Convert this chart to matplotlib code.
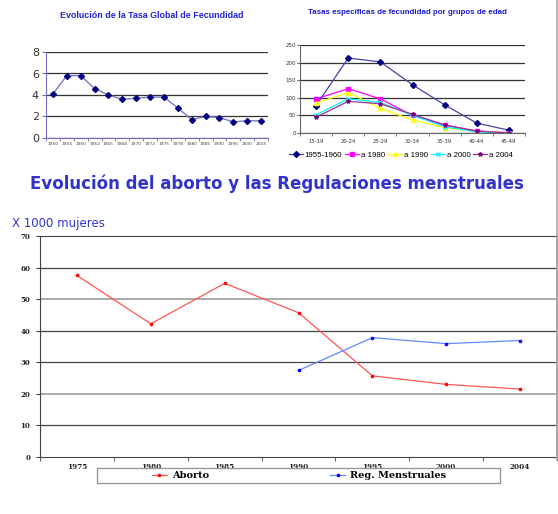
import matplotlib
matplotlib.use("Agg")
import matplotlib.pyplot as plt
from matplotlib import font_manager
from matplotlib.patches import Rectangle
from matplotlib.lines import Line2D
import numpy as np

# ---------- data ----------
tgf_years = ["1950", "1955", "1960", "1962", "1965", "1968", "1970", "1972",
             "1975", "1978", "1980", "1985", "1990", "1995", "2000", "2004"]
tgf_values = [4.1, 5.8, 5.8, 4.6, 4.0, 3.6, 3.7, 3.8, 3.8, 2.8, 1.7, 2.0, 1.9, 1.5, 1.6, 1.6]

age_groups = ["15-19", "20-24", "25-29", "30-34", "35-39", "40-44", "45-49"]
s_1955 = [78, 213, 202, 137, 80, 28, 8]
s_1980 = [97, 126, 97, 50, 22, 6, 1]
s_1990 = [85, 115, 70, 37, 15, 4, 1]
s_2000 = [52, 97, 87, 50, 18, 3, 0]
s_2004 = [45, 90, 83, 53, 23, 5, 0]
age_series_labels = ["1955-1960", "a 1980", "a 1990", "a 2000", "a 2004"]

ab_years = ["1975", "1980", "1985", "1990", "1995", "2000", "2004"]
aborto = [57.5, 42.2, 55.0, 45.7, 25.7, 23.0, 21.5]
reg_years_idx = [3, 4, 5, 6]
reg_menstruales = [27.4, 37.8, 35.9, 36.9]

W, H = 558, 514
fig = plt.figure(figsize=(W / 100, H / 100), dpi=100, facecolor="white")

try:
    font_manager.findfont(font_manager.FontProperties(family="Liberation Sans Narrow"),
                          fallback_to_default=False)
    narrow_name = "Liberation Sans Narrow"
except Exception:
    narrow_name = "Liberation Sans"
narrow = [narrow_name, "DejaVu Sans"]


def ax_px(left, top, right, bottom):
    return fig.add_axes([left / W, 1 - bottom / H, (right - left) / W, (bottom - top) / H])


def fit_width(t, target):
    r = fig.canvas.get_renderer()
    for _ in range(3):
        w = t.get_window_extent(r).width
        t.set_fontsize(t.get_fontsize() * target / w)


# ---------- chart 1 ----------
ax1 = ax_px(46, 52, 268, 138)
x1 = np.arange(len(tgf_values))
ax1.plot(x1, tgf_values, color="#7a7ac8", lw=1.0, marker="D", ms=3.0,
         mfc="#000080", mec="#000080", zorder=3)
ax1.set_xlim(-0.5, len(tgf_values) - 0.5)
ax1.set_ylim(0, 8)
ax1.set_yticks([0, 2, 4, 6, 8])
ax1.set_yticklabels(["0", "2", "4", "6", "8"], fontsize=8, color="#333333")
ax1.set_xticks(x1)
ax1.set_xticklabels(tgf_years, fontsize=3.2, color="#444444")
ax1.set_xticks(np.arange(-0.5, len(tgf_values)), minor=True)
ax1.tick_params(axis="x", which="major", length=0, pad=3)
ax1.tick_params(axis="x", which="minor", length=2, color="#7070c0")
ax1.tick_params(axis="y", length=3, color="#7070c0", pad=2)
ax1.yaxis.grid(True, color="#333333", lw=0.9)
ax1.set_axisbelow(True)
for s in ["top", "right"]:
    ax1.spines[s].set_visible(False)
ax1.spines["left"].set_color("#7070c0")
ax1.spines["bottom"].set_color("#7070c0")
t1 = fig.text(152 / W, 1 - 16 / H, "Evolución de la Tasa Global de Fecundidad",
              ha="center", va="center", fontsize=7, fontweight="bold",
              color="#2222dd", family=narrow)
fit_width(t1, 182)

# ---------- chart 2 ----------
ax2 = ax_px(300, 45, 525, 133)
x2 = np.arange(len(age_groups))
series = [s_1955, s_1980, s_1990, s_2000, s_2004]
colors = ["#000080", "#ff00ff", "#ffff00", "#00ffff", "#800080"]
lcolors = ["#4444aa", "#ff00ff", "#ffff00", "#00ffff", "#993399"]
markers = ["D", "s", "^", "x", "*"]
for vals, c, lc, m, lab in zip(series, colors, lcolors, markers, age_series_labels):
    ax2.plot(x2, vals, color=lc, lw=0.9, marker=m, ms=3.0, mfc=c, mec=c, label=lab)
ax2.set_xlim(-0.5, len(age_groups) - 0.5)
ax2.set_ylim(0, 250)
ax2.set_yticks([0, 50, 100, 150, 200, 250])
ax2.set_yticklabels(["0", "50", "100", "150", "200", "250"], fontsize=4, color="#333333")
ax2.set_xticks(x2)
ax2.set_xticklabels(age_groups, fontsize=3.8, color="#333333")
ax2.set_xticks(np.arange(-0.5, len(age_groups)), minor=True)
ax2.tick_params(axis="x", which="major", length=0, pad=4)
ax2.tick_params(axis="x", which="minor", length=2, color="#666666")
ax2.tick_params(axis="y", length=2, color="#666666", pad=1)
ax2.yaxis.grid(True, color="#333333", lw=0.9)
ax2.set_axisbelow(True)
for s in ["top", "right"]:
    ax2.spines[s].set_visible(False)
ax2.spines["left"].set_color("#666666")
ax2.spines["bottom"].set_color("#666666")

h2, l2 = ax2.get_legend_handles_labels()
size2 = 7.0
for _ in range(3):
    leg2 = fig.legend(h2, l2, loc="center", bbox_to_anchor=(401 / W, 1 - 155 / H),
                      ncol=5, frameon=False, prop={"family": narrow, "size": size2},
                      handlelength=1.8, handletextpad=0.2, columnspacing=0.4,
                      borderpad=0)
    wl = leg2.get_window_extent(fig.canvas.get_renderer()).width
    leg2.remove()
    size2 = size2 * 224 / wl
leg2 = fig.legend(h2, l2, loc="center", bbox_to_anchor=(401 / W, 1 - 155 / H),
                  ncol=5, frameon=False, prop={"family": narrow, "size": size2},
                  handlelength=1.8, handletextpad=0.2, columnspacing=0.4, borderpad=0)

t2 = fig.text(407 / W, 1 - 13 / H, "Tasas específicas de fecundidad por grupos de edad",
              ha="center", va="center", fontsize=7, fontweight="bold",
              color="#1a1acc", family=narrow)
fit_width(t2, 200)

# ---------- chart 3 ----------
fig.text(277 / W, 1 - 184 / H, "Evolución del aborto y las Regulaciones menstruales",
         ha="center", va="center", fontsize=12, fontweight="bold", color="#3333cc")
fig.text(12 / W, 1 - 224 / H, "X 1000 mujeres", ha="left", va="center",
         fontsize=8.5, color="#3333cc")

ax3 = ax_px(40, 236, 557, 457)
x3 = np.arange(len(ab_years))
ax3.plot(x3, aborto, color="#ff5555", lw=0.9, marker="o", ms=1.6,
         mfc="#ff0000", mec="#ff0000", label="Aborto")
ax3.plot(reg_years_idx, reg_menstruales, color="#6688ff", lw=0.9, marker="o", ms=1.6,
         mfc="#0000ff", mec="#0000ff", label="Reg. Menstruales")
ax3.set_xlim(-0.5, len(ab_years) - 0.5)
ax3.set_ylim(0, 70)
ax3.set_yticks(np.arange(0, 71, 10))
ax3.set_yticklabels([str(v) for v in range(0, 71, 10)], fontsize=5,
                    fontweight="bold", family="DejaVu Serif", color="#222222")
ax3.set_xticks(x3)
ax3.set_xticklabels(ab_years, fontsize=5.2, fontweight="bold",
                    family="DejaVu Serif", color="#222222")
ax3.set_xticks(np.arange(-0.5, len(ab_years)), minor=True)
ax3.tick_params(axis="x", which="major", length=0, pad=4)
ax3.tick_params(axis="x", which="minor", length=3, color="#444444")
ax3.tick_params(axis="y", length=3, color="#444444", pad=4)
for yv in range(10, 70, 10):
    if yv in (20, 50):
        ax3.axhline(yv, color="#aaaaaa", lw=1.4, zorder=0)
    else:
        ax3.axhline(yv, color="#444444", lw=0.9, zorder=0)
for s in ["left", "bottom", "top"]:
    ax3.spines[s].set_color("#444444")
ax3.spines["right"].set_color("#999999")
ax3.spines["right"].set_linewidth(1.4)

# legend box
fig.add_artist(Rectangle((97 / W, 1 - 483 / H), 403 / W, 15 / H,
                         transform=fig.transFigure, facecolor="white",
                         edgecolor="#999999", lw=1.0))
fig.legend(*ax3.get_legend_handles_labels(), loc="center",
           bbox_to_anchor=(299 / W, 1 - 475.5 / H), ncol=2, frameon=False,
           prop={"family": "DejaVu Serif", "weight": "bold", "size": 7},
           handlelength=1.5, handletextpad=0.5, columnspacing=12.5, borderpad=0)

# slide right border
fig.add_artist(Line2D([556.5 / W, 556.5 / W], [1 - 0 / H, 1 - 460 / H],
                      transform=fig.transFigure, color="#aaaaaa", lw=1.2))

fig.savefig("out.png", dpi=100, facecolor="white")
